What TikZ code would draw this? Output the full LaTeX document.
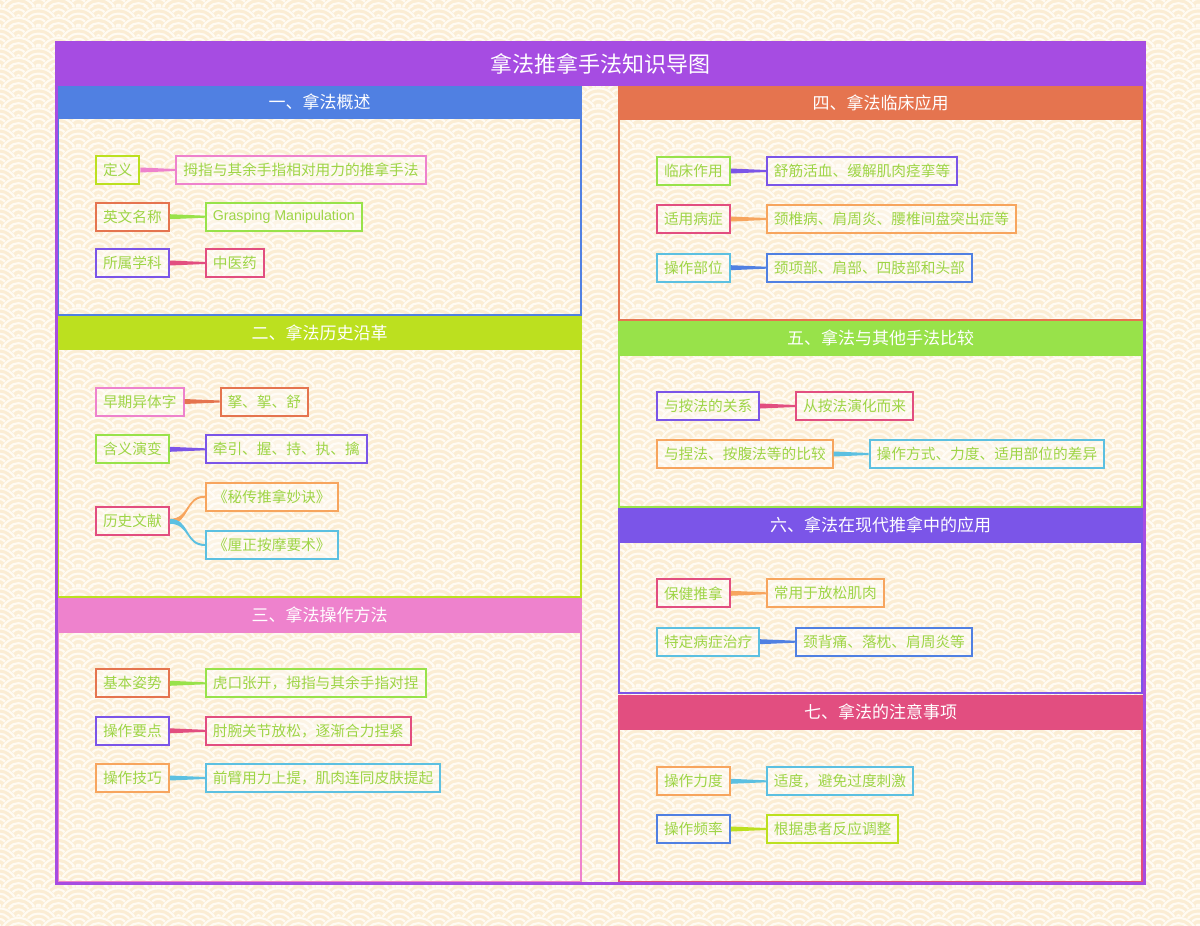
\documentclass[tikz,border=0pt]{standalone}
\usepackage{fontspec}
\setmainfont{Noto Sans CJK SC}
\newfontfamily\latinfont{Liberation Sans}
\usetikzlibrary{positioning,calc,patterns}
\definecolor{purpleT}{HTML}{A64CE2}
\definecolor{blueS}{HTML}{5080E2}
\definecolor{limeS}{HTML}{BCE01F}
\definecolor{pinkS}{HTML}{EE82CD}
\definecolor{orangeS}{HTML}{E5744F}
\definecolor{greenS}{HTML}{98E24A}
\definecolor{violetS}{HTML}{7B55E8}
\definecolor{redS}{HTML}{E24E80}
\definecolor{cyanS}{HTML}{5CC0E1}
\definecolor{lorangeS}{HTML}{F7A55E}
\definecolor{txtG}{HTML}{9ED546}
\definecolor{bgcream}{HTML}{FBEDD4}
\definecolor{bglight}{HTML}{FFFBF3}
\newcommand{\seigunit}[2]{%
  \pgfsetfillcolor{bgcream}\pgfpathcircle{\pgfpoint{#1pt}{#2pt}}{20pt}\pgfusepath{fill}%
  \pgfsetstrokecolor{bglight}\pgfsetlinewidth{2.2pt}%
  \pgfpathcircle{\pgfpoint{#1pt}{#2pt}}{18.5pt}%
  \pgfpathcircle{\pgfpoint{#1pt}{#2pt}}{13pt}%
  \pgfpathcircle{\pgfpoint{#1pt}{#2pt}}{7.5pt}\pgfusepath{stroke}%
  \pgfsetfillcolor{bglight}\pgfpathcircle{\pgfpoint{#1pt}{#2pt}}{2.5pt}\pgfusepath{fill}}
\pgfdeclarepatterninherentlycolored{seigaiha}
{\pgfpoint{0pt}{0pt}}{\pgfpoint{40pt}{20pt}}{\pgfpoint{40pt}{20pt}}
{%
  \foreach \k in {4,3,2,1,0,-1,-2} {%
    \pgfmathsetmacro{\yy}{\k*10}%
    \pgfmathsetmacro{\off}{mod(abs(\k),2)*20}%
    \foreach \m in {-1,0,1,2} {%
      \pgfmathsetmacro{\xx}{\m*40+\off}%
      \seigunit{\xx}{\yy}%
    }%
  }%
}
\newcommand{\conn}[3]{\fill[#1] ($(#2.east)+(0,-2.5)$) -- ($(#3.west)+(0,-1)$) -- ($(#3.west)+(0,1)$) -- ($(#2.east)+(0,2.5)$) -- cycle;}
\newcommand{\conncurve}[3]{\fill[#1] ($(#2.east)+(0,-2.5)$) .. controls ($(#2.east)+(20,-2.5)$) and ($(#3.west)+(-20,-1)$) .. ($(#3.west)+(0,-1)$) -- ($(#3.west)+(0,1)$) .. controls ($(#3.west)+(-20,1)$) and ($(#2.east)+(20,2.5)$) .. ($(#2.east)+(0,2.5)$) -- cycle;}
\begin{document}
\begin{tikzpicture}[x=1pt,y=-1pt,
  leaf/.style={draw=#1, line width=2pt, text=txtG, font=\fontsize{14.7}{18}\selectfont, inner xsep=7pt, inner ysep=0pt, minimum height=28pt, anchor=west, fill=white, fill opacity=0.4, text opacity=1, draw opacity=1},
  hdr/.style={text=white, font=\fontsize{17}{20}\selectfont, inner sep=0pt},
  body/.style={line width=2pt}]
\useasboundingbox (0,0) rectangle (1200,926);
% background seigaiha pattern
\fill[bgcream] (0,0) rectangle (1200,926);
\fill[pattern=seigaiha] (0,0) rectangle (1200,926);
% title
\fill[purpleT] (56,42) rectangle (1144,86);
\node[text=white, font=\fontsize{22}{26}\selectfont, inner sep=0pt] (title) at (600,64) {拿法推拿手法知识导图};
% sections left
\fill[blueS] (57,86) rectangle (582,118);
\node[hdr] (h1) at (319.5,102) {一、拿法概述};
\draw[blueS, body] (58,118) rectangle (581,315);
\fill[limeS] (57,316) rectangle (582,349);
\node[hdr] (h2) at (319.5,332.5) {二、拿法历史沿革};
\draw[limeS, body] (58,349) rectangle (581,597);
\fill[pinkS] (57,598) rectangle (582,632);
\node[hdr] (h3) at (319.5,615) {三、拿法操作方法};
\draw[pinkS, body] (58,632) rectangle (581,882);
% sections right
\fill[orangeS] (618,86) rectangle (1143,119);
\node[hdr] (h4) at (880.5,102.5) {四、拿法临床应用};
\draw[orangeS, body] (619,119) rectangle (1142,320);
\fill[greenS] (618,321) rectangle (1143,355);
\node[hdr] (h5) at (880.5,338) {五、拿法与其他手法比较};
\draw[greenS, body] (619,355) rectangle (1142,507);
\fill[violetS] (618,508) rectangle (1143,542);
\node[hdr] (h6) at (880.5,525) {六、拿法在现代推拿中的应用};
\draw[violetS, body] (619,542) rectangle (1142,693);
\fill[redS] (618,695) rectangle (1143,729);
\node[hdr] (h7) at (880.5,712) {七、拿法的注意事项};
\draw[redS, body] (619,729) rectangle (1142,882);
% outer frame
\draw[purpleT, line width=3pt] (56,42) rectangle (1144,883);
% section 1
\node[leaf=limeS] (a1) at (95,170) {定义};
\node[leaf=pinkS, right=35pt of a1] (b1) {拇指与其余手指相对用力的推拿手法};
\node[leaf=orangeS] (a2) at (95,216.7) {英文名称};
\node[leaf=greenS, right=35pt of a2, font=\latinfont\fontsize{14.2}{18}\selectfont] (b2) {Grasping Manipulation};
\node[leaf=violetS] (a3) at (95,263) {所属学科};
\node[leaf=redS, right=35pt of a3] (b3) {中医药};
\conn{pinkS}{a1}{b1}
\conn{greenS}{a2}{b2}
\conn{redS}{a3}{b3}
% section 2
\node[leaf=pinkS] (c1) at (95,401.5) {早期异体字};
\node[leaf=orangeS, right=35pt of c1] (d1) {拏、挐、舒};
\node[leaf=greenS] (c2) at (95,449.3) {含义演变};
\node[leaf=violetS, right=35pt of c2] (d2) {牵引、握、持、执、擒};
\node[leaf=redS] (c3) at (95,521.3) {历史文献};
\node[leaf=lorangeS] (d3) at (205,496.7) {《秘传推拿妙诀》};
\node[leaf=cyanS] (d4) at (205,545) {《厘正按摩要术》};
\conn{orangeS}{c1}{d1}
\conn{violetS}{c2}{d2}
\conncurve{lorangeS}{c3}{d3}
\conncurve{cyanS}{c3}{d4}
% section 3
\node[leaf=orangeS] (e1) at (95,683.3) {基本姿势};
\node[leaf=greenS, right=35pt of e1] (f1) {虎口张开，拇指与其余手指对捏};
\node[leaf=violetS] (e2) at (95,730.8) {操作要点};
\node[leaf=redS, right=35pt of e2] (f2) {肘腕关节放松，逐渐合力捏紧};
\node[leaf=lorangeS] (e3) at (95,778) {操作技巧};
\node[leaf=cyanS, right=35pt of e3] (f3) {前臂用力上提，肌肉连同皮肤提起};
\conn{greenS}{e1}{f1}
\conn{redS}{e2}{f2}
\conn{cyanS}{e3}{f3}
% section 4
\node[leaf=greenS] (g1) at (656,171) {临床作用};
\node[leaf=violetS, right=35pt of g1] (k1x) {舒筋活血、缓解肌肉痉挛等};
\node[leaf=redS] (g2) at (656,219) {适用病症};
\node[leaf=lorangeS, right=35pt of g2] (k2x) {颈椎病、肩周炎、腰椎间盘突出症等};
\node[leaf=cyanS] (g3) at (656,267.7) {操作部位};
\node[leaf=blueS, right=35pt of g3] (k3x) {颈项部、肩部、四肢部和头部};
\conn{violetS}{g1}{k1x}
\conn{lorangeS}{g2}{k2x}
\conn{blueS}{g3}{k3x}
% section 5
\node[leaf=violetS] (i1) at (656,406) {与按法的关系};
\node[leaf=redS, right=35pt of i1] (j1) {从按法演化而来};
\node[leaf=lorangeS] (i2) at (656,454) {与捏法、按腹法等的比较};
\node[leaf=cyanS, right=35pt of i2] (j2) {操作方式、力度、适用部位的差异};
\conn{redS}{i1}{j1}
\conn{cyanS}{i2}{j2}
% section 6
\node[leaf=redS] (p1) at (656,593.3) {保健推拿};
\node[leaf=lorangeS, right=35pt of p1] (q1) {常用于放松肌肉};
\node[leaf=cyanS] (p2) at (656,641.7) {特定病症治疗};
\node[leaf=blueS, right=35pt of p2] (q2) {颈背痛、落枕、肩周炎等};
\conn{lorangeS}{p1}{q1}
\conn{blueS}{p2}{q2}
% section 7
\node[leaf=lorangeS] (m1) at (656,781.3) {操作力度};
\node[leaf=cyanS, right=35pt of m1] (n1) {适度，避免过度刺激};
\node[leaf=blueS] (m2) at (656,829) {操作频率};
\node[leaf=limeS, right=35pt of m2] (n2) {根据患者反应调整};
\conn{cyanS}{m1}{n1}
\conn{limeS}{m2}{n2}
\end{tikzpicture}
\end{document}
